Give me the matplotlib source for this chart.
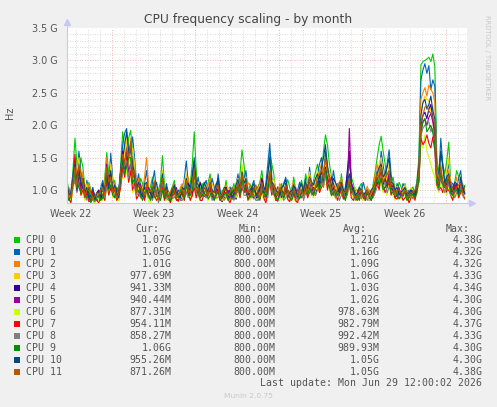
import numpy as np
import matplotlib
matplotlib.use("Agg")
import matplotlib.pyplot as plt
from matplotlib.patches import Rectangle

# samples every 4h; "a" lists hold the 0h, 8h, 16h ... samples,
# "b" lists the 4h, 12h, 20h ... samples in between
hours = np.arange(0, 804, 4)

# CPU frequencies in units of 10 MHz
c0a = [118, 86, 180, 122, 135, 96, 100, 82, 98, 90,
       158, 110, 115, 84, 190, 150, 192, 128, 96, 110,
       104, 105, 88, 100, 153, 86, 98, 115, 82, 108,
       120, 110, 190, 94, 110, 88, 125, 100, 96, 100,
       115, 84, 110, 98, 162, 108, 110, 86, 105, 130,
       92, 160, 125, 82, 110, 104, 105, 120, 88, 115,
       125, 108, 115, 140, 126, 185, 140, 100, 110, 125,
       86, 140, 110, 92, 110, 84, 100, 110, 150, 183,
       140, 130, 120, 95, 105, 110, 86, 105, 115, 293,
       300, 305, 310, 150, 160, 125, 174, 96, 130, 108, 107]
c0b = [92, 130, 140, 150, 104, 112, 88, 90, 84, 120,
       125, 96, 90, 140, 165, 180, 160, 100, 118, 88,
       96, 120, 100, 112, 110, 92, 104, 90, 100, 86,
       96, 140, 130, 100, 96, 112, 94, 110, 84, 96,
       92, 100, 86, 125, 140, 90, 98, 100, 112, 104,
       120, 140, 96, 100, 88, 116, 92, 100, 104, 96,
       112, 100, 128, 118, 160, 170, 120, 108, 92, 100,
       118, 120, 96, 104, 92, 100, 86, 128, 170, 160,
       118, 110, 100, 112, 92, 96, 100, 92, 150, 298,
       302, 298, 290, 125, 140, 145, 110, 112, 120, 98]
c1a = [105, 100, 150, 160, 110, 115, 84, 92, 86, 115,
       130, 157, 98, 100, 170, 195, 160, 150, 125, 88,
       130, 92, 130, 86, 120, 110, 84, 96, 100, 90,
       145, 96, 150, 120, 90, 115, 100, 105, 125, 86,
       100, 105, 88, 125, 130, 130, 92, 115, 84, 112,
       110, 172, 100, 105, 92, 120, 88, 104, 100, 96,
       118, 135, 96, 125, 150, 160, 118, 130, 92, 110,
       105, 150, 94, 100, 96, 100, 86, 104, 130, 160,
       120, 162, 100, 110, 92, 104, 100, 92, 110, 270,
       295, 292, 270, 138, 180, 110, 140, 110, 104, 130, 105]
c1b = [84, 125, 118, 128, 92, 96, 100, 84, 104, 96,
       112, 118, 86, 130, 188, 150, 182, 108, 100, 110,
       100, 112, 96, 105, 92, 96, 100, 88, 84, 118,
       110, 125, 104, 96, 108, 92, 118, 90, 100, 98,
       86, 96, 108, 100, 118, 100, 106, 90, 100, 88,
       140, 120, 92, 96, 110, 96, 100, 88, 112, 104,
       100, 108, 115, 140, 122, 138, 104, 110, 100, 92,
       125, 110, 100, 88, 112, 92, 96, 115, 120, 138,
       140, 125, 96, 100, 110, 92, 96, 100, 140, 285,
       280, 255, 260, 120, 140, 125, 112, 96, 118, 100]
c2a = [92, 96, 140, 110, 128, 88, 95, 80, 100, 100,
       150, 120, 112, 86, 150, 170, 180, 110, 118, 100,
       150, 84, 115, 96, 100, 104, 92, 110, 88, 110,
       110, 100, 140, 100, 104, 96, 118, 84, 110, 96,
       108, 96, 104, 112, 120, 96, 106, 105, 98, 120,
       100, 130, 110, 96, 104, 110, 84, 112, 96, 108,
       110, 124, 108, 118, 140, 150, 125, 110, 104, 118,
       96, 120, 104, 86, 104, 94, 96, 100, 140, 145,
       128, 130, 112, 100, 98, 96, 92, 100, 105, 240,
       258, 262, 250, 130, 140, 118, 130, 100, 120, 98, 101]
c2b = [104, 118, 125, 98, 100, 110, 84, 92, 86, 112,
       104, 92, 100, 120, 160, 140, 130, 96, 92, 120,
       110, 98, 86, 104, 92, 88, 100, 92, 104, 96,
       120, 90, 115, 88, 96, 108, 92, 104, 88, 100,
       96, 100, 92, 98, 108, 112, 90, 96, 112, 96,
       112, 104, 92, 110, 92, 96, 104, 90, 100, 92,
       96, 104, 112, 130, 118, 135, 104, 96, 112, 100,
       108, 100, 92, 100, 90, 106, 86, 125, 118, 112,
       110, 104, 96, 88, 104, 100, 96, 92, 130, 250,
       245, 255, 235, 118, 110, 104, 112, 108, 96, 110]
c3a = [110, 82, 120, 150, 100, 110, 90, 86, 94, 84,
       120, 140, 100, 92, 140, 180, 150, 140, 100, 104,
       110, 100, 96, 82, 130, 92, 100, 88, 96, 100,
       125, 84, 120, 112, 96, 108, 96, 100, 104, 90,
       96, 100, 96, 118, 140, 120, 86, 110, 100, 104,
       84, 140, 118, 100, 96, 92, 100, 96, 92, 104,
       104, 128, 100, 130, 118, 140, 130, 96, 100, 104,
       100, 110, 92, 96, 98, 88, 92, 106, 120, 150,
       110, 140, 104, 106, 88, 108, 94, 96, 112, 220,
       245, 238, 230, 120, 130, 112, 150, 104, 96, 120, 98]
c3b = [90, 100, 130, 112, 96, 84, 100, 92, 88, 100,
       96, 112, 84, 118, 150, 125, 165, 104, 92, 96,
       88, 92, 104, 96, 100, 84, 92, 100, 88, 112,
       96, 104, 100, 88, 100, 90, 110, 88, 96, 84,
       104, 88, 110, 96, 112, 96, 100, 92, 88, 96,
       108, 112, 96, 88, 104, 88, 92, 104, 86, 96,
       116, 96, 112, 104, 125, 112, 100, 110, 92, 96,
       92, 96, 104, 88, 92, 100, 100, 96, 140, 125,
       120, 112, 92, 96, 100, 90, 104, 88, 125, 235,
       240, 222, 200, 108, 118, 130, 104, 92, 108, 96]
c4a = [100, 90, 130, 120, 118, 92, 86, 84, 100, 98,
       110, 125, 90, 96, 160, 140, 170, 120, 110, 92,
       96, 88, 112, 90, 110, 96, 88, 100, 84, 96,
       100, 104, 130, 96, 100, 92, 108, 92, 98, 82,
       104, 88, 100, 100, 110, 112, 96, 92, 92, 118,
       96, 120, 96, 88, 100, 110, 92, 100, 84, 100,
       96, 112, 104, 108, 130, 135, 110, 104, 96, 96,
       92, 160, 100, 90, 92, 96, 84, 96, 110, 130,
       118, 120, 96, 92, 96, 100, 88, 88, 100, 200,
       220, 225, 210, 115, 128, 104, 118, 92, 110, 104, 94]
c4b = [86, 110, 98, 104, 100, 104, 92, 96, 86, 104,
       120, 100, 104, 130, 132, 155, 128, 96, 88, 104,
       92, 100, 88, 98, 90, 92, 104, 86, 92, 88,
       110, 92, 108, 112, 90, 100, 88, 104, 86, 96,
       92, 96, 86, 108, 96, 92, 104, 86, 100, 104,
       100, 108, 90, 96, 92, 96, 88, 92, 96, 88,
       104, 96, 92, 120, 112, 118, 96, 90, 104, 88,
       130, 112, 88, 96, 86, 92, 92, 104, 118, 108,
       104, 108, 88, 100, 90, 96, 92, 96, 120, 215,
       210, 232, 190, 104, 112, 110, 100, 104, 96, 100]
c5a = [96, 94, 110, 135, 104, 100, 82, 88, 90, 104,
       140, 100, 104, 88, 130, 160, 140, 130, 96, 96,
       100, 96, 100, 84, 96, 100, 94, 96, 92, 100,
       96, 90, 110, 104, 92, 100, 100, 88, 112, 92,
       92, 92, 88, 110, 120, 100, 100, 100, 88, 100,
       92, 125, 104, 92, 88, 100, 96, 92, 90, 96,
       110, 100, 96, 112, 120, 130, 104, 110, 92, 112,
       86, 195, 96, 92, 100, 90, 90, 92, 118, 120,
       104, 125, 108, 96, 90, 96, 90, 94, 96, 190,
       210, 212, 205, 110, 118, 110, 112, 96, 100, 112, 94]
c5b = [100, 115, 120, 100, 92, 88, 96, 84, 100, 92,
       110, 96, 92, 112, 145, 128, 120, 104, 110, 88,
       104, 88, 94, 100, 88, 96, 86, 104, 96, 88,
       104, 100, 96, 88, 104, 92, 96, 100, 86, 88,
       100, 86, 100, 96, 104, 92, 88, 96, 104, 90,
       104, 100, 88, 100, 96, 88, 100, 104, 88, 100,
       92, 110, 100, 104, 108, 116, 120, 96, 104, 96,
       100, 110, 88, 100, 92, 96, 86, 100, 112, 104,
       112, 100, 92, 104, 94, 88, 100, 92, 115, 205,
       200, 218, 180, 116, 104, 96, 104, 110, 92, 104]
c6a = [88, 84, 125, 110, 96, 90, 92, 80, 84, 96,
       105, 110, 96, 84, 120, 130, 125, 100, 104, 86,
       92, 80, 104, 92, 96, 84, 86, 92, 86, 88,
       104, 88, 115, 90, 88, 96, 90, 96, 92, 84,
       90, 84, 96, 96, 118, 96, 84, 96, 86, 96,
       88, 110, 92, 90, 84, 96, 86, 88, 86, 92,
       100, 104, 88, 104, 112, 120, 100, 96, 88, 100,
       84, 104, 88, 84, 94, 86, 84, 100, 125, 110,
       100, 110, 92, 88, 86, 92, 84, 90, 94, 175,
       185, 150, 128, 104, 110, 100, 104, 88, 92, 100, 88]
c6b = [96, 100, 104, 92, 84, 100, 84, 90, 96, 84,
       96, 88, 104, 108, 118, 112, 96, 92, 88, 100,
       84, 96, 86, 84, 90, 96, 84, 88, 96, 84,
       92, 104, 96, 84, 92, 84, 100, 86, 88, 92,
       84, 92, 88, 104, 100, 88, 92, 86, 92, 84,
       96, 100, 84, 88, 92, 84, 96, 82, 92, 88,
       92, 96, 100, 96, 104, 108, 90, 86, 96, 88,
       96, 92, 84, 90, 84, 92, 96, 110, 104, 96,
       92, 96, 84, 92, 88, 84, 90, 86, 110, 165,
       160, 140, 120, 96, 104, 92, 96, 94, 88, 92]
c7a = [98, 80, 155, 118, 100, 96, 84, 88, 80, 92,
       112, 104, 100, 90, 135, 150, 130, 110, 92, 92,
       104, 86, 92, 88, 104, 92, 80, 100, 84, 94,
       112, 84, 104, 100, 84, 90, 104, 86, 100, 88,
       96, 80, 92, 104, 104, 104, 92, 88, 96, 108,
       80, 112, 100, 84, 92, 104, 82, 96, 80, 88,
       104, 96, 92, 110, 104, 125, 120, 92, 84, 104,
       92, 110, 84, 90, 100, 84, 88, 96, 112, 125,
       96, 112, 100, 86, 94, 88, 80, 96, 100, 180,
       175, 172, 182, 108, 104, 116, 100, 84, 108, 96, 95]
c7b = [86, 112, 100, 92, 88, 82, 100, 84, 92, 84,
       92, 96, 84, 104, 120, 112, 100, 86, 100, 84,
       92, 96, 84, 100, 84, 88, 92, 84, 92, 84,
       96, 92, 88, 84, 96, 100, 88, 92, 84, 96,
       86, 92, 100, 88, 96, 84, 100, 92, 84, 88,
       96, 92, 84, 100, 88, 86, 92, 84, 96, 92,
       88, 100, 104, 96, 112, 100, 96, 100, 92, 86,
       96, 88, 92, 84, 92, 96, 84, 104, 100, 108,
       104, 92, 88, 96, 84, 92, 88, 84, 115, 170,
       185, 165, 160, 100, 96, 100, 92, 100, 88, 104]
c8a = [92, 88, 118, 112, 108, 84, 88, 82, 88, 100,
       104, 115, 92, 96, 125, 145, 140, 104, 96, 100,
       96, 92, 96, 80, 112, 88, 92, 88, 90, 84,
       96, 92, 112, 92, 96, 88, 96, 92, 88, 92,
       88, 96, 84, 98, 112, 92, 96, 92, 84, 104,
       96, 115, 92, 96, 96, 88, 92, 104, 84, 100,
       96, 110, 100, 100, 120, 128, 112, 100, 96, 92,
       88, 115, 92, 88, 86, 92, 92, 88, 104, 122,
       112, 104, 96, 100, 88, 100, 92, 86, 104, 185,
       200, 205, 195, 112, 120, 96, 110, 96, 96, 104, 86]
c8b = [100, 104, 96, 120, 92, 96, 84, 92, 96, 88,
       110, 96, 88, 112, 140, 118, 112, 92, 88, 92,
       88, 84, 100, 92, 96, 84, 88, 96, 84, 92,
       88, 100, 96, 86, 92, 96, 84, 88, 96, 84,
       92, 88, 96, 104, 92, 100, 88, 84, 96, 92,
       88, 100, 104, 88, 84, 96, 86, 92, 96, 84,
       104, 92, 92, 112, 104, 108, 92, 88, 84, 96,
       92, 96, 84, 92, 96, 84, 88, 96, 112, 104,
       96, 100, 92, 88, 96, 86, 92, 96, 112, 195,
       205, 190, 170, 100, 108, 104, 92, 88, 100, 92]
c9a = [104, 92, 125, 104, 116, 88, 80, 84, 92, 88,
       118, 108, 88, 92, 145, 135, 150, 118, 100, 84,
       100, 84, 108, 92, 100, 96, 84, 104, 88, 96,
       108, 92, 125, 96, 92, 100, 92, 84, 96, 88,
       96, 92, 92, 108, 116, 96, 88, 104, 92, 96,
       88, 125, 96, 84, 100, 96, 88, 92, 92, 96,
       100, 104, 92, 114, 112, 132, 104, 96, 92, 108,
       84, 112, 100, 84, 96, 88, 92, 92, 120, 118,
       104, 116, 96, 92, 92, 96, 88, 92, 96, 190,
       210, 195, 188, 112, 125, 104, 120, 92, 100, 100, 106]
c9b = [84, 110, 112, 96, 92, 100, 92, 88, 84, 104,
       100, 92, 104, 118, 125, 150, 110, 96, 92, 96,
       92, 100, 90, 84, 88, 88, 96, 92, 100, 88,
       92, 100, 108, 88, 96, 86, 100, 92, 88, 92,
       84, 100, 96, 92, 104, 88, 96, 92, 86, 100,
       100, 104, 88, 92, 88, 100, 84, 96, 86, 104,
       92, 96, 104, 100, 124, 110, 92, 100, 96, 92,
       100, 96, 88, 92, 88, 96, 84, 104, 108, 100,
       110, 96, 100, 86, 92, 84, 96, 88, 118, 205,
       190, 200, 170, 104, 110, 116, 96, 100, 92, 96]
c10a = [112, 96, 140, 130, 104, 104, 92, 86, 96, 110,
        125, 130, 108, 88, 150, 190, 165, 125, 112, 90,
        112, 96, 104, 94, 125, 104, 92, 108, 92, 104,
        118, 100, 145, 108, 100, 104, 112, 96, 118, 90,
        104, 100, 96, 116, 128, 118, 100, 110, 96, 110,
        104, 150, 108, 96, 104, 116, 96, 108, 90, 110,
        112, 120, 108, 125, 135, 170, 118, 118, 104, 108,
        96, 125, 104, 96, 100, 96, 92, 104, 125, 140,
        125, 150, 110, 104, 96, 104, 96, 98, 110, 215,
        240, 232, 222, 122, 160, 112, 125, 104, 110, 120, 96]
c10b = [92, 118, 100, 112, 96, 88, 104, 96, 90, 96,
        104, 100, 96, 125, 170, 160, 140, 104, 96, 108,
        96, 88, 112, 100, 96, 90, 100, 96, 88, 100,
        104, 120, 112, 92, 112, 96, 100, 108, 96, 104,
        92, 88, 108, 100, 110, 96, 104, 92, 104, 96,
        125, 112, 100, 92, 108, 100, 92, 100, 104, 96,
        100, 112, 118, 108, 150, 135, 104, 112, 96, 100,
        112, 100, 92, 104, 92, 100, 100, 112, 135, 120,
        135, 112, 100, 92, 100, 92, 100, 92, 135, 235,
        225, 245, 210, 110, 135, 120, 104, 112, 96, 104]
c11a = [100, 92, 135, 140, 112, 100, 96, 90, 92, 104,
        135, 120, 104, 94, 155, 165, 175, 130, 108, 100,
        110, 100, 112, 88, 118, 100, 96, 100, 92, 100,
        115, 96, 130, 104, 100, 100, 110, 96, 108, 92,
        100, 96, 100, 110, 125, 112, 100, 100, 96, 112,
        96, 130, 108, 92, 96, 108, 92, 100, 92, 100,
        108, 118, 100, 120, 130, 150, 120, 108, 100, 104,
        96, 118, 96, 92, 100, 92, 90, 100, 125, 135,
        118, 130, 104, 100, 96, 100, 90, 96, 105, 205,
        228, 222, 212, 118, 135, 108, 122, 100, 104, 110, 87]
c11b = [88, 112, 104, 125, 92, 104, 86, 96, 100, 92,
        112, 96, 88, 130, 140, 150, 118, 96, 104, 92,
        96, 104, 92, 100, 96, 88, 104, 88, 96, 92,
        100, 112, 96, 90, 104, 92, 96, 104, 90, 100,
        92, 104, 96, 100, 104, 96, 90, 108, 88, 100,
        110, 100, 96, 104, 92, 100, 96, 92, 100, 92,
        96, 110, 104, 125, 118, 128, 100, 96, 112, 96,
        104, 100, 88, 96, 90, 100, 96, 112, 118, 112,
        124, 104, 92, 100, 92, 96, 92, 100, 130, 215,
        230, 218, 200, 110, 112, 100, 110, 96, 108, 96]

series_a = [c0a, c1a, c2a, c3a, c4a, c5a, c6a, c7a, c8a, c9a, c10a, c11a]
series_b = [c0b, c1b, c2b, c3b, c4b, c5b, c6b, c7b, c8b, c9b, c10b, c11b]
names = ["CPU 0", "CPU 1", "CPU 2", "CPU 3", "CPU 4", "CPU 5",
         "CPU 6", "CPU 7", "CPU 8", "CPU 9", "CPU 10", "CPU 11"]
colors = ["#00CC00", "#0066B3", "#FF8000", "#FFCC00", "#330099", "#990099",
          "#CCFF00", "#FF0000", "#808080", "#008F00", "#00487D", "#B35A00"]
cur = ["1.07G", "1.05G", "1.01G", "977.69M", "941.33M", "940.44M",
       "877.31M", "954.11M", "858.27M", "1.06G", "955.26M", "871.26M"]
mins = ["800.00M"] * 12
avgs = ["1.21G", "1.16G", "1.09G", "1.06G", "1.03G", "1.02G",
        "978.63M", "982.79M", "992.42M", "989.93M", "1.05G", "1.05G"]
maxs = ["4.38G", "4.32G", "4.32G", "4.33G", "4.34G", "4.30G",
        "4.30G", "4.37G", "4.33G", "4.30G", "4.30G", "4.38G"]
week_labels = ["Week 22", "Week 23", "Week 24", "Week 25", "Week 26"]

W, H = 497, 407
fig = plt.figure(figsize=(W / 100, H / 100), dpi=100, facecolor="#F0F0F0")

def fx(px):
    return px / W

def fy(py):
    return 1 - py / H

ax = fig.add_axes([fx(67), fy(203), 400 / W, 175 / H])
ax.set_facecolor("white")
ax.set_xlim(0, 33.53)
ax.set_ylim(0.8, 3.5)

# grid
dots = (0, (1, 2))
for k in range(9, 35):
    v = k / 10
    if k % 5 == 0:
        ax.axhline(v, color="#E8A0A0", lw=0.6, ls=dots, zorder=1)
    else:
        ax.axhline(v, color="#CFCFCF", lw=0.6, ls=dots, zorder=1)
for d in range(33):
    v = 0.77 + d
    if d % 7 == 3:
        ax.axvline(v, color="#E8A0A0", lw=0.6, ls=dots, zorder=1)
    else:
        ax.axvline(v, color="#CFCFCF", lw=0.6, ls=dots, zorder=1)

days = hours / 24.0
for a, b, col in zip(series_a, series_b, colors):
    vals = np.empty(len(hours))
    vals[0::2] = a
    vals[1::2] = b
    ax.plot(days, vals / 100.0, color=col, lw=0.8, zorder=3)

for s in ax.spines.values():
    s.set_visible(False)
axcol = "#C8C8F0"
ax.plot([0, 0], [0, 1.035], transform=ax.transAxes, color=axcol, lw=0.8, clip_on=False, zorder=4)
ax.plot([0, 1.01], [0, 0], transform=ax.transAxes, color=axcol, lw=0.8, clip_on=False, zorder=4)
ax.plot([0], [1.035], marker="^", ms=4, color=axcol, transform=ax.transAxes, clip_on=False)
ax.plot([1.012], [0], marker=">", ms=4, color=axcol, transform=ax.transAxes, clip_on=False)

yt = [1.0, 1.5, 2.0, 2.5, 3.0, 3.5]
ax.set_yticks(yt)
ax.set_yticklabels(["%.1f G" % v for v in yt])
ax.set_xticks([0.27 + 7 * k for k in range(5)])
ax.set_xticklabels(week_labels)
ax.tick_params(axis="both", length=0, labelsize=6.9, labelcolor="#555555")
ax.tick_params(axis="y", pad=7)
ax.tick_params(axis="x", pad=4)

txt = "#555555"
fig.text(fx(248), fy(19), "CPU frequency scaling - by month", ha="center", va="center",
         fontsize=8.8, color="#444444")
fig.text(fx(10), fy(113), "Hz", rotation=90, ha="center", va="center", fontsize=7, color=txt)
fig.text(fx(487), fy(15), "RRDTOOL / TOBI OETIKER", rotation=270, ha="center", va="top",
         fontsize=4.8, color="#C8C8C8")

mono = "DejaVu Sans Mono"
fs = 7.1
for label, xr in zip(["Cur:", "Min:", "Avg:", "Max:"], [159, 263, 367, 470]):
    fig.text(fx(xr), fy(228.5), label, ha="right", va="center", family=mono, fontsize=fs, color=txt)
for i in range(12):
    yc = 239.7 + 12 * i
    fig.patches.append(Rectangle((fx(14), fy(yc + 3)), 6 / W, 6 / H, transform=fig.transFigure,
                                 facecolor=colors[i], edgecolor="none"))
    fig.text(fx(26), fy(yc), names[i], ha="left", va="center", family=mono, fontsize=fs, color=txt)
    for val, xr in zip([cur[i], mins[i], avgs[i], maxs[i]], [171.5, 275.5, 379.5, 482.5]):
        fig.text(fx(xr), fy(yc), val, ha="right", va="center", family=mono, fontsize=fs, color=txt)
fig.text(fx(482.5), fy(383.5), "Last update: Mon Jun 29 12:00:02 2026", ha="right", va="center",
         family=mono, fontsize=fs, color=txt)
fig.text(fx(248), fy(396), "Munin 2.0.75", ha="center", va="center", fontsize=5.4, color="#C8C8C8")

fig.savefig("out.png", dpi=100, facecolor=fig.get_facecolor())
